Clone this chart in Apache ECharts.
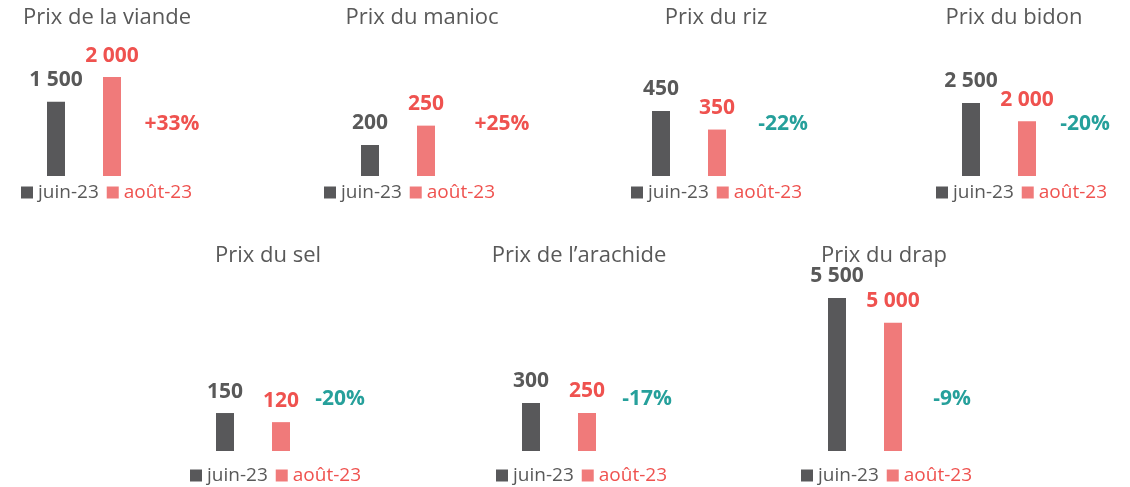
<!DOCTYPE html>
<html>
<head>
<meta charset="utf-8">
<script src="https://cdn.jsdelivr.net/npm/echarts@6/dist/echarts.min.js"></script>
<style>
  html, body { margin: 0; padding: 0; background: #fff; }
  #chart { width: 1130px; height: 487px; }
</style>
</head>
<body>
<div id="chart"></div>
<script>
// Data
const products = ['Prix de la viande', 'Prix du manioc', 'Prix du riz', 'Prix du bidon',
  'Prix du sel', 'Prix de l\u2019arachide', 'Prix du drap'];
const periods = ['juin-23', 'août-23'];
const juin = [1500, 200, 450, 2500, 150, 300, 5500];
const aout = [2000, 250, 350, 2000, 120, 250, 5000];
// value axis extents per panel
const yMin = [0, 120, 100, 500, 25, 60, 2400];
const yMax = [2750, 471, 832, 4226, 588, 915, 5865];

// Layout (px)
const bandW = 56;
const firstBar = [56, 370, 661, 971, 225, 531, 837];
const titleX = [107, 422, 716, 1014, 268, 579, 884];
const legendX = [21, 324, 631, 936, 190, 496, 801];
const pctX = [172, 502, 783, 1085, 340, 647, 952];
const rows = [
  { top: 40, bottom: 176, title: 18, legend: 190, pct: 124 },
  { top: 280, bottom: 451, title: 256, legend: 473, pct: 399 }
];

const DARK = '#58585a';
const SALMON = '#f07a7a';
const RED = '#ef524f';
const TEAL = '#26a09b';
const TEXT = '#595959';
const FONT = '"Open Sans", "Noto Sans", sans-serif';

const fmt = (v) => String(v).replace(/\B(?=(\d{3})+(?!\d))/g, ' ');

const grid = [], xAxis = [], yAxis = [], series = [], legend = [], graphic = [];

products.forEach((name, i) => {
  const row = rows[i < 4 ? 0 : 1];
  const left = firstBar[i] - bandW / 2;
  grid.push({ left: left, width: bandW * 3, top: row.top, height: row.bottom - row.top });
  xAxis.push({ type: 'category', gridIndex: i, data: [periods[0], periods[1], ''], show: false });
  yAxis.push({ type: 'value', gridIndex: i, min: yMin[i], max: yMax[i], startValue: yMin[i], show: false, splitLine: { show: false } });

  const label = (color) => ({
    show: true, position: 'top', distance: 11,
    fontFamily: FONT, fontSize: 21, fontWeight: 'bold', color: color,
    formatter: (p) => fmt(p.value)
  });
  series.push({
    name: periods[0], type: 'bar', xAxisIndex: i, yAxisIndex: i,
    data: [juin[i], '-', '-'], barWidth: 18, barGap: '-100%', clip: true,
    itemStyle: { color: DARK }, label: label(TEXT), silent: true
  });
  series.push({
    name: periods[1], type: 'bar', xAxisIndex: i, yAxisIndex: i,
    data: ['-', aout[i], '-'], barWidth: 18, barGap: '-100%', clip: true,
    itemStyle: { color: SALMON }, label: label(RED), silent: true
  });

  legend.push({
    left: legendX[i], top: row.legend - 7, itemWidth: 12, itemHeight: 12, itemGap: 8,
    icon: 'rect', selectedMode: false, padding: 0,
    textStyle: { fontFamily: FONT, fontSize: 19 },
    data: [
      { name: periods[0], textStyle: { color: TEXT } },
      { name: periods[1], textStyle: { color: RED } }
    ]
  });

  graphic.push({
    type: 'text', x: titleX[i], y: row.title,
    style: { text: name, fill: TEXT, font: '22px ' + FONT, align: 'center', verticalAlign: 'middle' }
  });

  const change = Math.round((aout[i] / juin[i] - 1) * 100);
  graphic.push({
    type: 'text', x: pctX[i], y: row.pct,
    style: {
      text: (change > 0 ? '+' : '') + change + '%',
      fill: change > 0 ? RED : TEAL,
      font: 'bold 21px ' + FONT, align: 'center', verticalAlign: 'middle'
    }
  });
});

const chart = echarts.init(document.getElementById('chart'));
chart.setOption({
  backgroundColor: '#fff',
  animation: false,
  grid, xAxis, yAxis, series, legend, graphic
});
</script>
</body>
</html>
